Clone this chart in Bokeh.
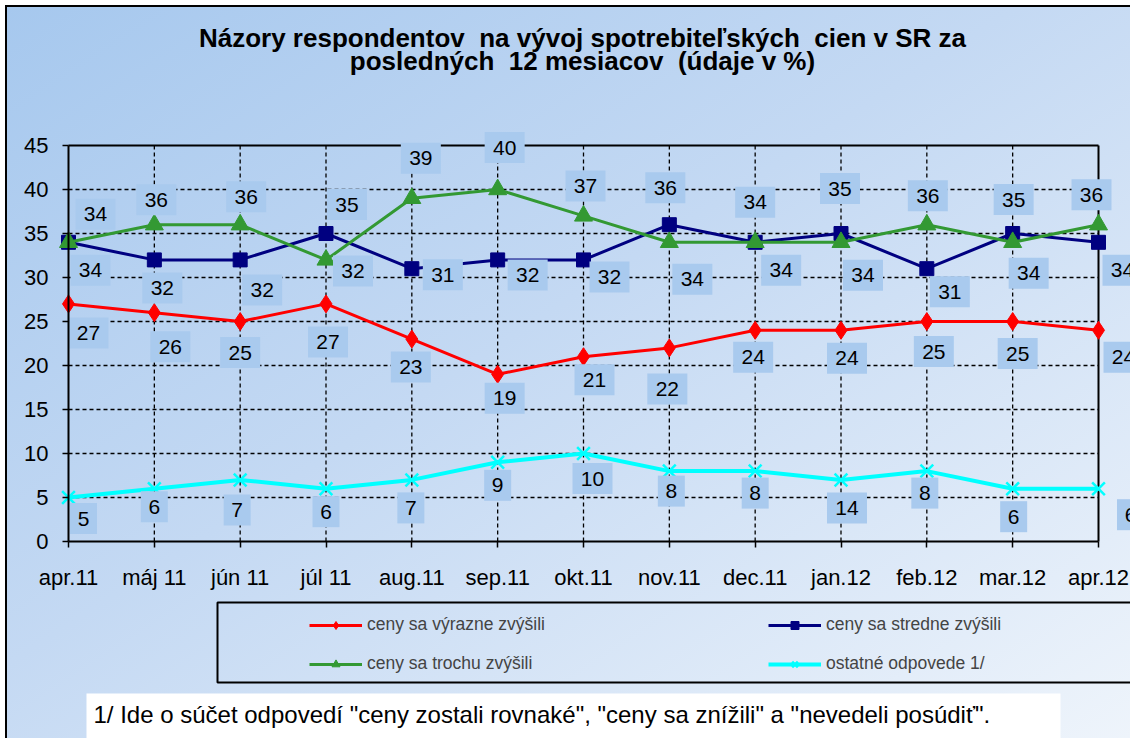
from bokeh.plotting import figure
from bokeh.models import FixedTicker, Legend, LegendItem, Label, Range1d, LinearAxis
from bokeh.core.properties import value
from bokeh.embed import file_html
from bokeh.resources import INLINE

# ---------------- data ----------------
months = ["apr.11", "máj 11", "jún 11", "júl 11", "aug.11", "sep.11", "okt.11",
          "nov.11", "dec.11", "jan.12", "feb.12", "mar.12", "apr.12"]
vyrazne = [27, 26, 25, 27, 23, 19, 21, 22, 24, 24, 25, 25, 24]
stredne = [34, 32, 32, 35, 31, 32, 32, 36, 34, 35, 31, 35, 34]
trochu = [34, 36, 36, 32, 39, 40, 37, 34, 34, 34, 36, 34, 36]
ostatne = [5, 6, 7, 6, 7, 9, 10, 8, 8, 7, 8, 6, 6]
ostatne_labels = ["5", "6", "7", "6", "7", "9", "10", "8", "8", "14", "8", "6", "6"]
series_names = ["ceny sa výrazne zvýšili", "ceny sa stredne zvýšili",
                "ceny sa trochu zvýšili", "ostatné odpovede 1/"]
y_ticks = [0, 5, 10, 15, 20, 25, 30, 35, 40, 45]
title_lines = ["Názory respondentov \u00a0na vývoj spotrebiteľských \u00a0cien v SR za",
               "posledných \u00a012 mesiacov \u00a0(údaje v %)"]
footnote = '1/ Ide o súčet odpovedí "ceny zostali rovnaké", "ceny sa znížili" a "nevedeli posúdiť".'

# ---------------- label placement (screen px: right, down) ----------------
red_off = [(20, 29), (16, 34), (0, 31), (2, 38), (-1, 28), (7, 24), (11, 23),
           (-2, 41), (-2, 27), (6, 28), (7, 30), (5, 32), (25, 27)]
blue_off = [(22, 28), (8, 28), (22, 30), (21, -29), (31, 6), (30, 15), (26, 17),
            (-4, -37), (0, -40), (-1, -45), (23, 23), (1, -34), (24, 28)]
green_off = [(27, -28), (2, -25), (6, -28), (27, 11), (9, -40), (7, -42), (2, -30),
             (23, 37), (26, 28), (22, 33), (1, -29), (16, 31), (-7, -30)]
cyan_off = [(15, 21), (0, 18), (-3, 30), (0, 23), (-1, 28), (0, 23), (9, 25),
            (2, 20), (0, 22), (6, 28), (-2, 22), (1, 28), (32, 26)]

# ---------------- layout (page pixels) ----------------
OX, OY, W, H = 7, 7, 1125, 733          # canvas origin on page and size
PL, PR, PT, PB = 68, 1098, 145, 541     # plot area
X0, X1, Y0, Y1 = 0, len(months) - 1, y_ticks[0], y_ticks[-1]
ppx = (PR - PL) / (X1 - X0)
ppy = (PB - PT) / (Y1 - Y0)


def to_x(px):
    return X0 + (px - PL) / ppx


def to_y(py):
    return Y0 + (PB - py) / ppy


FONT = "Liberation Sans"
x = list(range(len(months)))

p = figure(width=W, height=H, output_backend="svg", toolbar_location=None,
           x_range=Range1d(to_x(OX), to_x(OX + W)), y_range=Range1d(to_y(OY + H), to_y(OY)),
           x_axis_location=None, y_axis_location=None,
           min_border=0, min_border_left=0, min_border_right=0,
           min_border_top=0, min_border_bottom=0)
p.styles = {"background": "linear-gradient(to bottom right, #a6c8ee 0%, #c4d9f3 45%, #eef4fb 100%)",
            "margin-left": "5px", "margin-top": "5px",
            "border-left": "2px solid black", "border-top": "2px solid black"}
p.border_fill_alpha = 0
p.background_fill_alpha = 0
p.outline_line_color = None
for g in p.grid:
    g.visible = False

# axes at the plot-area edges
xaxis = LinearAxis(fixed_location=Y0, bounds=(X0, X1), ticker=FixedTicker(ticks=x),
                   major_label_overrides={i: m for i, m in enumerate(months)})
yaxis = LinearAxis(fixed_location=X0, bounds=(Y0, Y1), ticker=FixedTicker(ticks=y_ticks))
for ax in (xaxis, yaxis):
    ax.axis_line_color = "black"
    ax.axis_line_width = 2
    ax.major_tick_line_color = "black"
    ax.major_tick_line_width = 1.5
    ax.major_tick_out = 6
    ax.major_tick_in = 0
    ax.minor_tick_line_color = None
    ax.major_label_text_font = FONT
    ax.major_label_text_font_size = "22px"
    ax.major_label_text_color = "black"
xaxis.major_label_standoff = 17
yaxis.major_label_standoff = 14
p.add_layout(xaxis, "below")
p.add_layout(yaxis, "left")

# dashed grid inside the plot area, solid top/right edges
p.segment(x0=x[1:-1], y0=[Y0] * (len(x) - 2), x1=x[1:-1], y1=[Y1] * (len(x) - 2),
          line_color="black", line_dash="4 3", line_width=1.3)
p.segment(x0=[X0] * (len(y_ticks) - 2), y0=y_ticks[1:-1], x1=[X1] * (len(y_ticks) - 2),
          y1=y_ticks[1:-1], line_color="black", line_dash="4 3", line_width=1.3)
p.segment(x0=[X0, X1], y0=[Y1, Y0], x1=[X1, X1], y1=[Y1, Y1], line_color="black", line_width=2)

# series
specs = [
    (vyrazne, "#ff0000", "diamond", 18, 3, [str(v) for v in vyrazne], red_off),
    (stredne, "#000080", "square", 14, 3, [str(v) for v in stredne], blue_off),
    (trochu, "#339933", "triangle", 18, 3, [str(v) for v in trochu], green_off),
    (ostatne, "#00ffff", "x", 18, 4, ostatne_labels, cyan_off),
]
items = []
for (vals, col, mk, sz, lw, labs, offs), name in zip(specs, series_names):
    ln = p.line(x, vals, line_color=col, line_width=lw)
    if mk == "x":
        sc = p.scatter(x, vals, marker=mk, size=sz, line_color=col, line_width=2.5)
    else:
        sc = p.scatter(x, vals, marker=mk, size=sz, fill_color=col, line_color=col)
    items.append(LegendItem(label=name, renderers=[ln, sc]))

# data labels with light-blue boxes
for (vals, col, mk, sz, lw, labs, offs) in specs:
    lx = [xi + dx / ppx for xi, (dx, dy) in zip(x, offs)]
    ly = [v - dy / ppy for v, (dx, dy) in zip(vals, offs)]
    bw = [14 + 13 * len(t) for t in labs]
    p.rect(lx, ly, width=bw, height=31, width_units="screen", height_units="screen",
           fill_color="#a9caee", line_color=None)
    p.text(lx, ly, text=labs, text_align="center", text_baseline="middle",
           text_font=value(FONT), text_font_size="21px", text_color="black")

# legend frame and legend
p.quad(left=[to_x(217)], right=[to_x(OX + W + 20)], top=[to_y(602)], bottom=[to_y(682)],
       fill_alpha=0, line_color="black", line_width=2)
legend = Legend(items=[items[0], items[2], items[1], items[3]], ncols=2,
                location=(309 - OX, 66), padding=10, spacing=18, margin=0,
                glyph_width=53, glyph_height=20, label_height=20,
                label_standoff=5, label_width=383,
                label_text_font=FONT, label_text_font_size="17.5px",
                border_line_color=None, background_fill_alpha=0)
p.add_layout(legend)

# title
for t, mid in zip(title_lines, [37, 60]):
    p.add_layout(Label(x=to_x(582), y=to_y(mid), text=t,
                       text_align="center", text_baseline="middle", text_color="black",
                       text_font=FONT, text_font_style="bold", text_font_size="26px"))

# footnote
p.quad(left=[to_x(86)], right=[to_x(1060)], top=[to_y(693)], bottom=[to_y(OY + H + 5)],
       fill_color="white", line_color=None)
p.add_layout(Label(x=to_x(93), y=to_y(714), text=footnote,
                   text_align="left", text_baseline="middle",
                   text_font=FONT, text_font_size="24px", text_color="black"))

open("out.html", "w").write(file_html(p, INLINE))
